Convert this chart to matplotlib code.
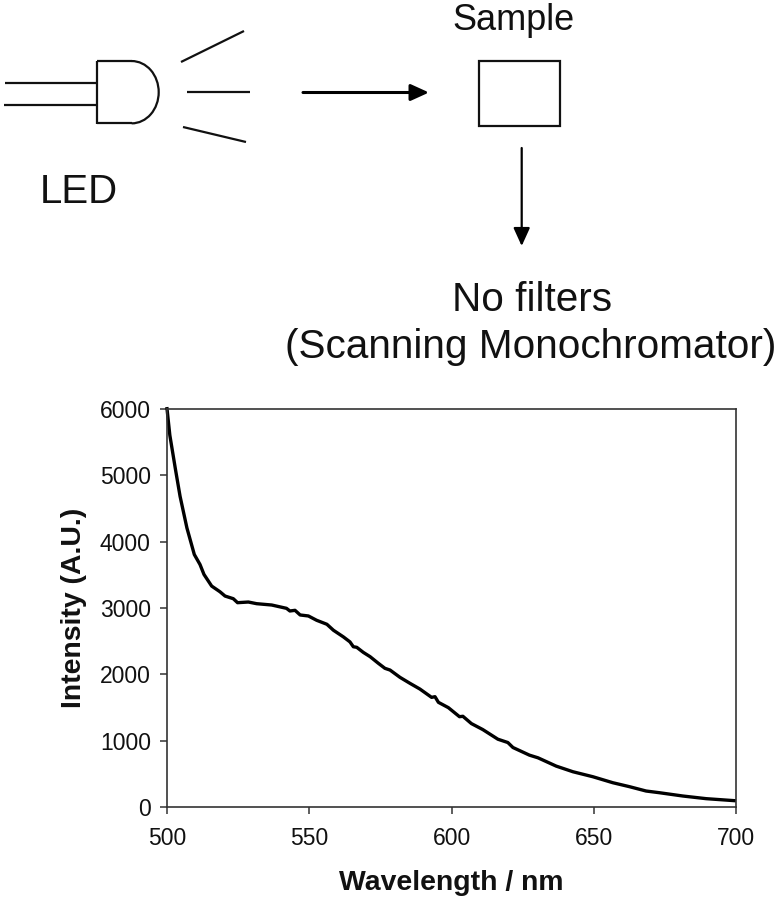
import matplotlib
matplotlib.use("Agg")
import matplotlib.pyplot as plt
from matplotlib.patches import Arc, Rectangle

plt.rcParams['font.family'] = ['Liberation Sans', 'DejaVu Sans']

# spectrum
wavelength = [500, 501, 503, 504.6, 507, 509.6, 511.6, 513, 515.7, 518.6, 520.4, 523.3, 524.8,
              528.6, 531.5, 536.8, 542, 543.2, 545, 546.8, 549.7, 552.6, 556.2, 558.5, 562,
              564.3, 565.5, 566.7, 569, 571.4, 574.3, 576.6, 578.4, 581.9, 585.4, 588.9, 593,
              594.2, 595.4, 598.9, 602.8, 604, 607, 611, 616.3, 619.8, 621.6, 627.4, 630.4,
              636.8, 642.7, 649.7, 656.7, 662.6, 668.4, 673, 681.3, 689.5, 699.4]
intensity = [6000, 5600, 5080, 4680, 4205, 3805, 3655, 3505, 3330, 3245, 3180, 3140, 3080,
             3090, 3065, 3045, 2995, 2955, 2965, 2895, 2880, 2815, 2755, 2665, 2565,
             2490, 2417, 2408, 2332, 2267, 2167, 2092, 2066, 1956, 1866, 1780, 1655,
             1665, 1580, 1500, 1364, 1370, 1260, 1170, 1025, 975, 900, 785, 745,
             620, 535, 460, 370, 310, 245, 220, 170, 130, 100]

x_ticks = [500, 550, 600, 650, 700]
y_ticks = [0, 1000, 2000, 3000, 4000, 5000, 6000]

W, H = 781, 900
fig = plt.figure(figsize=(W / 100, H / 100), dpi=100)

# schematic on top, drawn in picture pixels
bg = fig.add_axes([0, 0, 1, 1])
bg.set_xlim(0, W)
bg.set_ylim(H, 0)
bg.axis('off')

ink = '#111111'
thin = 1.6


def seg(x0, y0, x1, y1, lw=thin):
    bg.plot([x0, x1], [y0, y1], color=ink, lw=lw, solid_capstyle='butt')


def arrow(x0, y0, x1, y1, lw):
    bg.annotate('', xy=(x1, y1), xytext=(x0, y0),
                arrowprops=dict(arrowstyle='-|>,head_length=1.1,head_width=0.5', color='black',
                                lw=lw, mutation_scale=10, shrinkA=0, shrinkB=0))


seg(5, 82.7, 97, 82.7)
seg(4, 105.3, 97, 105.3)
seg(97.3, 60.5, 97.3, 123.8)
seg(97, 61, 131.7, 61)
seg(97, 123.3, 131.7, 123.3)
bg.add_patch(Arc((131.7, 92.2), 54, 62.3, theta1=-90, theta2=90, color=ink, lw=thin))

seg(181, 62, 244, 31)
seg(187, 92.3, 250, 92.3)
seg(183, 127, 246, 142)

arrow(303, 92.5, 429, 92.5, 2.2)
bg.add_patch(Rectangle((479.3, 61), 81, 64.5, fill=False, edgecolor=ink, lw=thin))
arrow(521.7, 148, 521.7, 246, 1.6)

bg.text(79, 203, 'LED', fontsize=29, ha='center', va='baseline', color=ink)
bg.text(513.5, 30, 'Sample', fontsize=26, ha='center', va='baseline', color=ink)
bg.text(532, 311, 'No filters', fontsize=29.2, ha='center', va='baseline', color=ink)
bg.text(531, 358.5, '(Scanning Monochromator)', fontsize=29.2, ha='center', va='baseline', color=ink)

# spectrum
ax = fig.add_axes([167 / W, 1 - 807.3 / H, (736 - 167) / W, (807.3 - 408.7) / H])
ax.plot(wavelength, intensity, color='black', lw=2.4, clip_on=False)
ax.set_xlim(500, 700)
ax.set_ylim(0, 6000)
ax.set_xticks(x_ticks)
ax.set_yticks(y_ticks)
for s in ax.spines.values():
    s.set_linewidth(1.2)
    s.set_color('#333333')
ax.tick_params(direction='out', length=4.7, width=1.1, color='#333333', labelsize=16.5,
               labelcolor=ink)
ax.tick_params(axis='y', pad=7)
ax.tick_params(axis='x', pad=9.5)
ax.patch.set_alpha(0)

fig.text(451.5 / W, 1 - 889.5 / H, 'Wavelength / nm', fontsize=20.4, fontweight='bold',
         ha='center', va='baseline', color=ink)
fig.text(87 / W, 1 - 608 / H, 'Intensity (A.U.)', fontsize=20.4, fontweight='bold', rotation=90,
         ha='right', va='center', color=ink)

fig.savefig('out.png', dpi=100)
